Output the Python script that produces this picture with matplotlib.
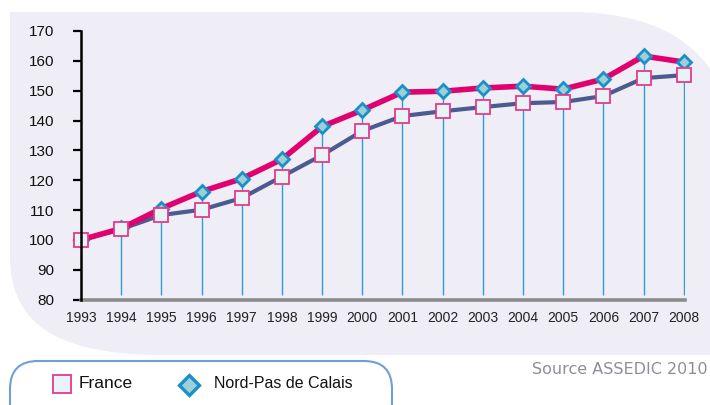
import matplotlib.pyplot as plt
from matplotlib.path import Path
from matplotlib.patches import PathPatch, FancyBboxPatch
from matplotlib.lines import Line2D
from matplotlib.transforms import Affine2D

years = [1993, 1994, 1995, 1996, 1997, 1998, 1999, 2000,
         2001, 2002, 2003, 2004, 2005, 2006, 2007, 2008]
france = [100, 103.6, 108.3, 110.1, 114.0, 121.2, 128.4, 136.5,
          141.5, 143.1, 144.5, 145.8, 146.2, 148.2, 154.2, 155.2]
nord_pdc = [100, 103.8, 110.5, 116.2, 120.5, 127.0, 138.0, 143.5,
            149.5, 149.8, 150.9, 151.5, 150.5, 153.9, 161.6, 159.6]
y_ticks = [80, 90, 100, 110, 120, 130, 140, 150, 160, 170]

SANS = ["Liberation Sans", "DejaVu Sans"]
W, H = 710, 405

fig = plt.figure(figsize=(7.1, 4.05), dpi=100)
# pixel coords, origin at top-left
px = Affine2D().scale(1 / W, -1 / H).translate(0, 1) + fig.transFigure

# lavender background panel with curved corners
verts = [(10, 12), (570, 12),
         (650, 12), (700, 40), (722, 90),
         (722, 355), (160, 355),
         (50, 354), (10, 320), (10, 255),
         (10, 12)]
codes = [Path.MOVETO, Path.LINETO,
         Path.CURVE4, Path.CURVE4, Path.CURVE4,
         Path.LINETO, Path.LINETO,
         Path.CURVE4, Path.CURVE4, Path.CURVE4,
         Path.CLOSEPOLY]
fig.patches.append(PathPatch(Path(verts, codes), transform=px,
                             facecolor="#efedf5", edgecolor="none", zorder=-1))

ax = fig.add_axes([81 / W, 1 - 299.5 / H, (685 - 81) / W, (299.5 - 31) / H])
ax.set_zorder(2)
ax.patch.set_visible(False)

ax.vlines(years[1:], 81.4, nord_pdc[1:], color="#2a9fd6", lw=1.0, zorder=1)
ax.plot(years, france, color="#4b5b8f", lw=3, zorder=2, clip_on=False)
ax.plot(years, nord_pdc, color="#e2006f", lw=4, zorder=3, clip_on=False)
ax.plot(years, nord_pdc, ls="", marker="D", ms=7.5, mfc="#9ccfd8",
        mec="#1a8fc8", mew=2, zorder=4, clip_on=False)
ax.plot(years, france, ls="", marker="s", ms=9.5, mfc="#e8f3f5",
        mec="#e8388a", mew=1.3, zorder=5, clip_on=False)

ax.set_xlim(1993, 2008.03)
ax.set_ylim(80, 170)
ax.set_yticks(y_ticks)
ax.set_xticks(years)
ax.set_xticklabels([str(y) for y in years], family=SANS, fontsize=10,
                   color="#222222")
ax.set_yticklabels([str(v) for v in y_ticks], family=SANS, fontsize=11,
                   color="#111111")
ax.tick_params(axis="y", length=6, width=1.6, color="black", pad=13.5)
ax.tick_params(axis="x", length=0, pad=8)

for s in ("top", "right"):
    ax.spines[s].set_visible(False)
ax.spines["left"].set_linewidth(1.8)
ax.spines["left"].set_color("black")
ax.spines["bottom"].set_linewidth(2.6)
ax.spines["bottom"].set_color("#8c8c8c")
ax.spines["left"].set_zorder(6)

# legend box
fig.patches.append(FancyBboxPatch((10, 361), 382, 70,
                                  boxstyle="round,pad=0,rounding_size=28",
                                  transform=px, facecolor="white",
                                  edgecolor="#6f9fd6", lw=1.5, zorder=1))
fig.lines.append(Line2D([62], [384], transform=px,
                        ls="", marker="s", ms=13, mfc="#e8f3f5",
                        mec="#e8388a", mew=1.3, zorder=3))
fig.lines.append(Line2D([189], [385], transform=px,
                        ls="", marker="D", ms=10.5, mfc="#9ccfd8",
                        mec="#1a8fc8", mew=2.4, zorder=3))
fig.text(79, 384, "France", transform=px, family=SANS, fontsize=12.5,
         va="center", ha="left", color="#111111")
fig.text(214, 384, "Nord-Pas de Calais", transform=px, family=SANS,
         fontsize=11.5, va="center", ha="left", color="#111111")

fig.text(708, 369, "Source ASSEDIC 2010", transform=px, family="DejaVu Sans",
         fontsize=11.5, va="center", ha="right", color="#8e8e96")

fig.savefig("out.png", dpi=100)
